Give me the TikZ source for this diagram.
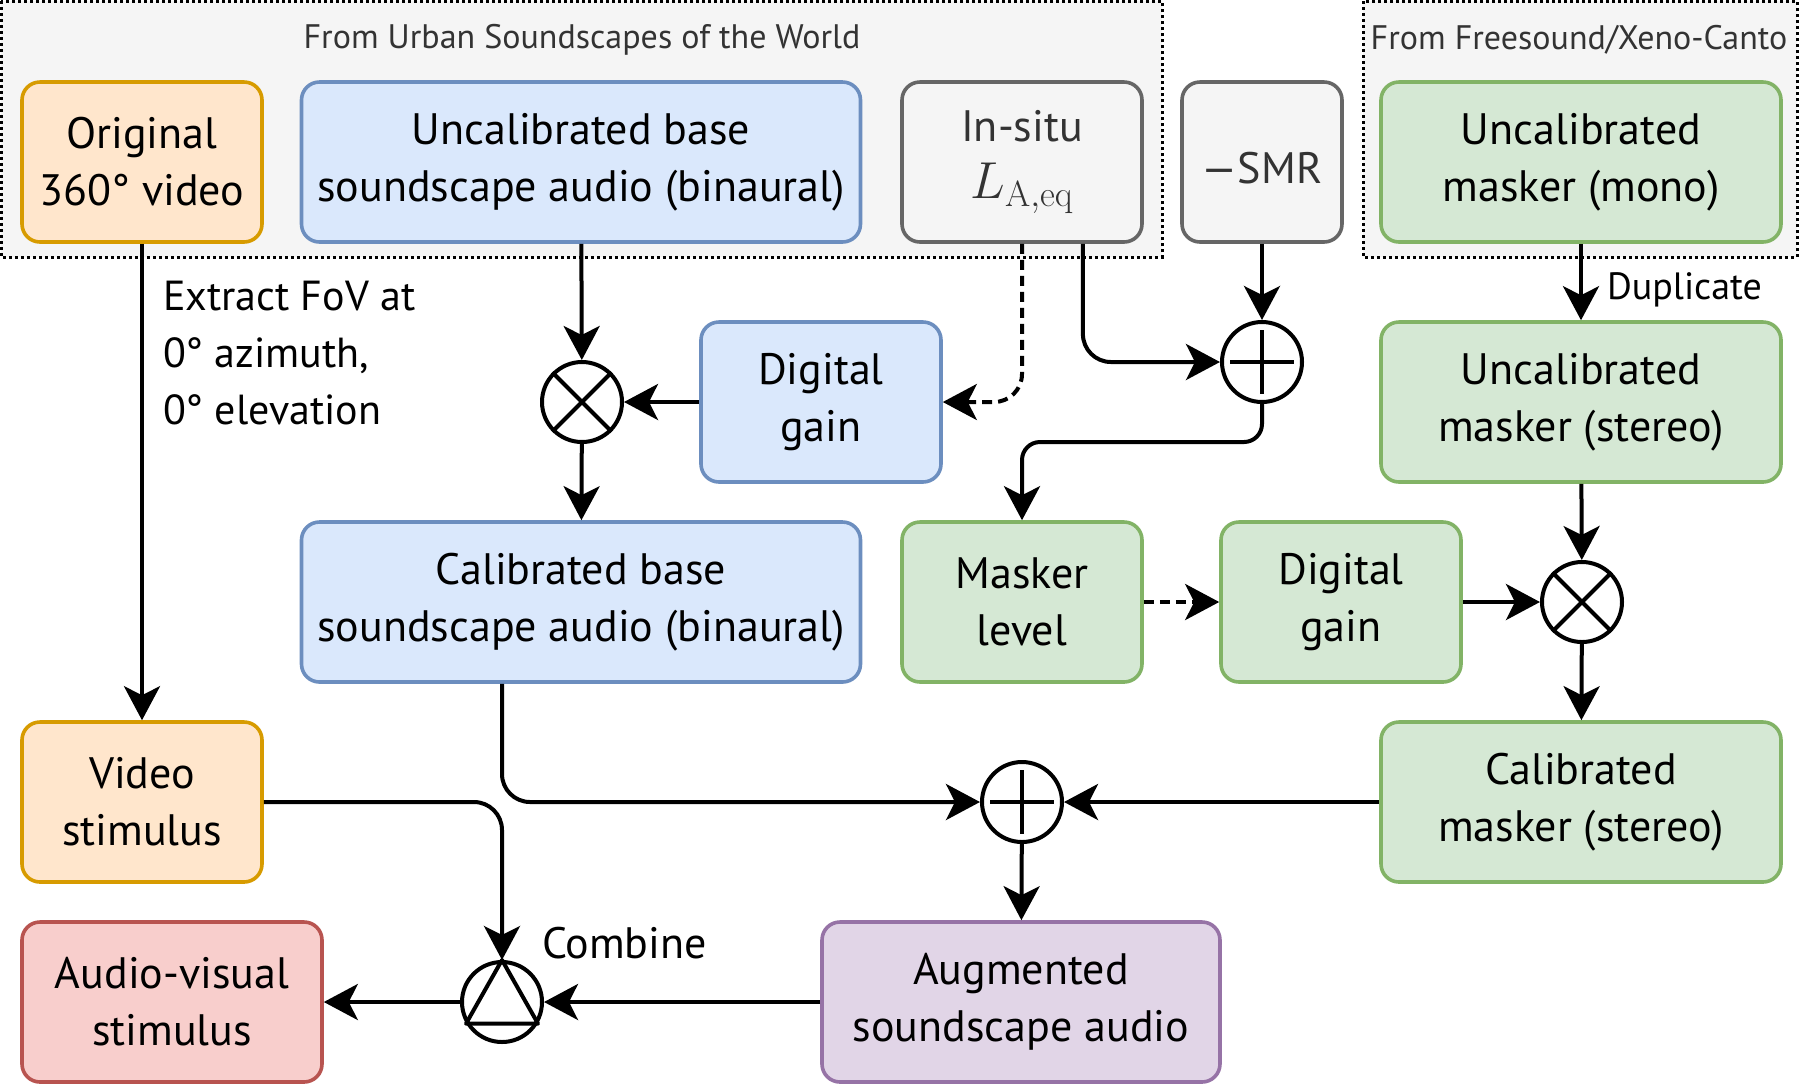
\RequirePackage{fix-cm}
\documentclass[tikz,border=0pt]{standalone}
\usepackage[no-math]{fontspec}
\setmainfont{PT Sans}
\usetikzlibrary{arrows.meta,calc}

\definecolor{orangefill}{HTML}{FFE6CC}
\definecolor{orangeline}{HTML}{D79B00}
\definecolor{bluefill}{HTML}{DAE8FC}
\definecolor{blueline}{HTML}{6C8EBF}
\definecolor{grayfill}{HTML}{F5F5F5}
\definecolor{grayline}{HTML}{666666}
\definecolor{greenfill}{HTML}{D5E8D4}
\definecolor{greenline}{HTML}{82B366}
\definecolor{purplefill}{HTML}{E1D5E7}
\definecolor{purpleline}{HTML}{9673A6}
\definecolor{redfill}{HTML}{F8CECC}
\definecolor{redline}{HTML}{B85450}
\definecolor{darktext}{HTML}{333333}

\tikzset{
  block/.style={draw, line width=1.8pt, rounded corners=9pt, minimum height=80pt,
    align=center, inner sep=2pt, font=\fontsize{22}{28.5}\selectfont,
    execute at begin node={\rule{0pt}{22pt}}},
  orangebox/.style={block, fill=orangefill, draw=orangeline},
  bluebox/.style={block, fill=bluefill, draw=blueline},
  graybox/.style={block, fill=grayfill, draw=grayline, text=darktext},
  greenbox/.style={block, fill=greenfill, draw=greenline},
  purplebox/.style={block, fill=purplefill, draw=purpleline},
  redbox/.style={block, fill=redfill, draw=redline},
  op/.style={circle, draw, line width=2pt, fill=white, minimum size=40pt, inner sep=0pt},
  source/.style={draw, line width=1.5pt, dash pattern=on 1.5pt off 1.5pt, fill=grayfill},
  link/.style={line width=2pt, -{Stealth[length=17pt,width=18pt,inset=4.5pt]}, rounded corners=14pt},
  dashlink/.style={link, dash pattern=on 5pt off 3pt},
  note/.style={font=\fontsize{21}{28.5}\selectfont, inner sep=0pt},
  smallnote/.style={font=\fontsize{17}{20}\selectfont, text=darktext, inner sep=0pt},
}

\begin{document}
\begin{tikzpicture}[x=0.5pt,y=-0.5pt]
\useasboundingbox (0,0) rectangle (1800,1084);
% Source areas
\filldraw[source] (1,1) rectangle (1162,257);
\filldraw[source] (1363,1) rectangle (1797,257);
\node[smallnote] (srcusw) at (582,40) {From Urban Soundscapes of the World};
\node[smallnote] (srcfs) at (1579,40) {From Freesound/Xeno-Canto};
% Top row
\node[orangebox, minimum width=120pt] (orig) at (142,162) {Original\\360° video};
\node[bluebox, minimum width=279.5pt] (ubase) at (581,162) {Uncalibrated base\\soundscape audio (binaural)};
\node[graybox, minimum width=120pt] (insitu) at (1022,162) {In-situ\\{\fontsize{26}{28.5}\selectfont$L_{\mathrm{A,eq}}$}};
\node[graybox, minimum width=80pt] (smr) at (1262,162) {—SMR};
\node[greenbox, minimum width=200pt] (umono) at (1581,162) {Uncalibrated\\masker (mono)};
% Second row
\node[op] (mulb) at (582,402) {};
\node[bluebox, minimum width=120pt] (dgainb) at (821,402) {Digital\\gain};
\node[op] (plust) at (1262,362) {};
\node[greenbox, minimum width=200pt] (ustereo) at (1581,402) {Uncalibrated\\masker (stereo)};
% Third row
\node[bluebox, minimum width=279.5pt] (cbase) at (581,602) {Calibrated base\\soundscape audio (binaural)};
\node[greenbox, minimum width=120pt] (mlevel) at (1022,602) {Masker\\level};
\node[greenbox, minimum width=120pt] (dgaing) at (1341,602) {Digital\\gain};
\node[op] (mulg) at (1582,602) {};
% Fourth row
\node[orangebox, minimum width=120pt] (video) at (142,802) {Video\\stimulus};
\node[op] (plusb) at (1022,802) {};
\node[greenbox, minimum width=200pt] (cmasker) at (1581,802) {Calibrated\\masker (stereo)};
% Bottom row
\node[redbox, minimum width=150pt] (avstim) at (172,1002) {Audio-visual\\stimulus};
\node[op] (comb) at (502,1002) {};
\node[purplebox, minimum width=199pt] (augm) at (1021,1002) {Augmented\\soundscape audio};
% Operator symbols
\foreach \o in {mulb,mulg} {
  \draw[line width=2pt] (\o.45) -- (\o.225);
  \draw[line width=2pt] (\o.135) -- (\o.315);
}
\foreach \o in {plust,plusb} {
  \draw[line width=2pt, shorten <=5pt, shorten >=5pt] (\o.north) -- (\o.south);
  \draw[line width=2pt, shorten <=5pt, shorten >=5pt] (\o.west) -- (\o.east);
}
\draw[line width=2pt, line join=round] (comb.-31) -- (comb.north) -- (comb.-149) -- cycle;
% Connectors
\draw[link] (orig) -- (video)
  node[note, pos=0.23, anchor=west, align=left, xshift=9.5pt] {Extract FoV at\\0° azimuth,\\0° elevation};
\draw[link] (ubase) -- (mulb);
\draw[link] (dgainb) -- (mulb);
\draw[link] (mulb) -- (cbase);
\draw[dashlink] (insitu.south) |- (dgainb.east);
\draw[link] ($(insitu.south)!0.5!(insitu.south east)$) |- (plust.west);
\draw[link] (smr) -- (plust);
\draw[link, rounded corners=9pt] (plust.south) -- ++(0,38) -| (mlevel.north);
\draw[dashlink] (mlevel) -- (dgaing);
\draw[link] (dgaing) -- (mulg);
\draw[link] (umono) -- (ustereo)
  node[smallnote, text=black, pos=0.6, anchor=west, xshift=12pt, font=\fontsize{19}{20}\selectfont] {Duplicate};
\draw[link] (ustereo) -- (mulg);
\draw[link] (mulg) -- (cmasker);
\draw[link] (cmasker) -- (plusb);
\draw[link] (cbase.south -| comb) |- (plusb.west);
\draw[link] (plusb) -- (augm);
\draw[link] (video.east) -| (comb.north)
  node[note, pos=0.947, anchor=west, xshift=19pt, font=\fontsize{22}{28.5}\selectfont] {Combine};
\draw[link] (augm) -- (comb);
\draw[link] (comb) -- (avstim);
\end{tikzpicture}
\end{document}
